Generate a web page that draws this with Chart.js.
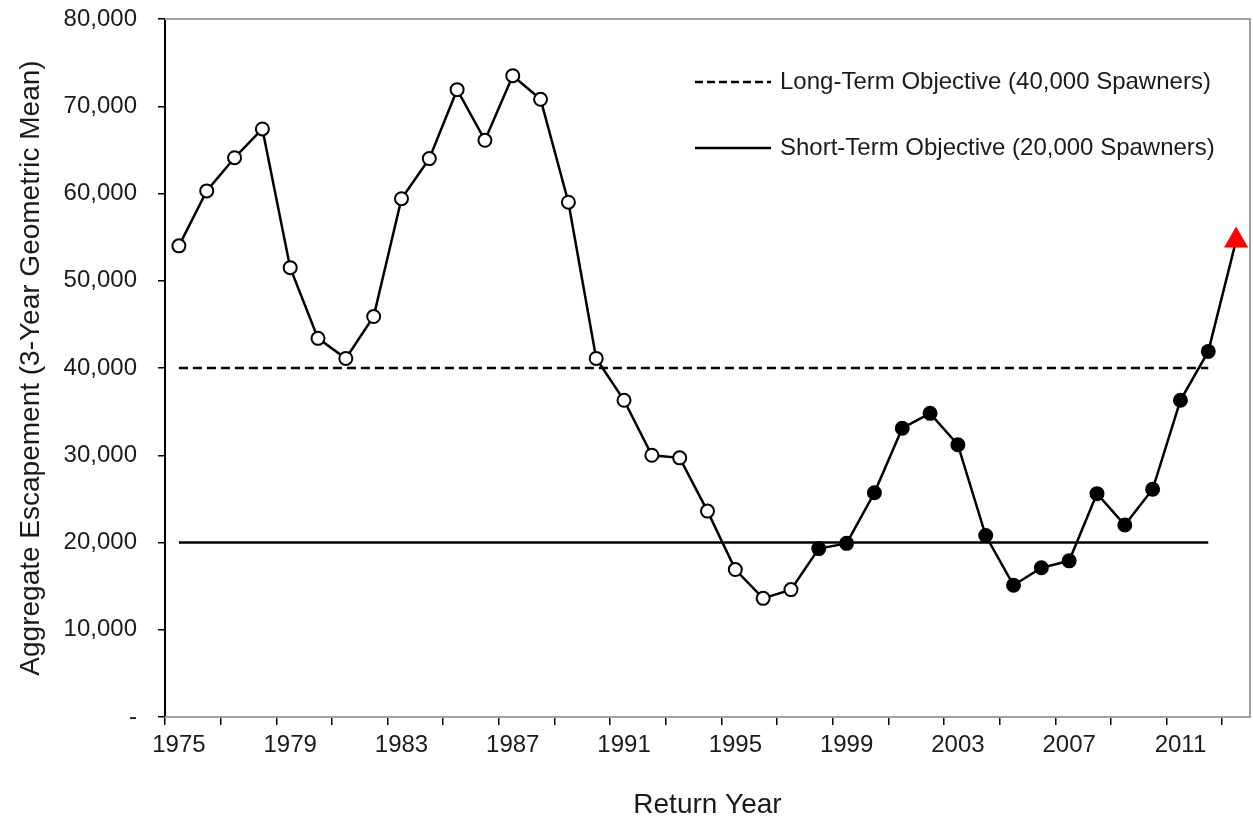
<!DOCTYPE html>
<html>
<head>
<meta charset="utf-8">
<title>Aggregate Escapement</title>
<script src="https://cdn.jsdelivr.net/npm/chart.js@4.4.1/dist/chart.umd.min.js"></script>
<style>
  html, body { margin: 0; padding: 0; background: #fff; }
  #wrap { width: 1253px; height: 824px; position: relative; }
</style>
</head>
<body>
<div id="wrap"><canvas id="chart"></canvas></div>
<script>
// Return years and 3-year geometric mean escapement
const years = [1975, 1976, 1977, 1978, 1979, 1980, 1981, 1982, 1983, 1984,
  1985, 1986, 1987, 1988, 1989, 1990, 1991, 1992, 1993, 1994,
  1995, 1996, 1997, 1998, 1999, 2000, 2001, 2002, 2003, 2004,
  2005, 2006, 2007, 2008, 2009, 2010, 2011, 2012, 2013];
const escapement = [54000, 60300, 64100, 67400, 51500, 43400, 41100, 45900, 59400, 64000,
  71900, 66100, 73500, 70800, 59000, 41100, 36300, 30000, 29700, 23600,
  16900, 13600, 14600, 19300, 19900, 25700, 33100, 34800, 31200, 20800,
  15100, 17100, 17900, 25600, 22000, 26100, 36300, 41900, 54600];

const FIRST_FILLED_YEAR = 1998;   // solid markers from here on
const PROJECTED_YEAR = 2013;      // red triangle
const OBJECTIVE_LAST_YEAR = 2012; // reference lines stop here

const longTermObjective = 40000;
const shortTermObjective = 20000;
const legendLabels = ['Long-Term Objective (40,000 Spawners)', 'Short-Term Objective (20,000 Spawners)'];

const yTicks = [0, 10000, 20000, 30000, 40000, 50000, 60000, 70000, 80000];
const yTitle = 'Aggregate Escapement (3-Year Geometric Mean)';
const xTitle = 'Return Year';

const FONT = '"Liberation Sans", Arial, sans-serif';
const TEXT = '#1a1a1a';

const objectiveLine = (value) => years.map(y => (y <= OBJECTIVE_LAST_YEAR ? value : null));

const pointFill = years.map(y => {
  if (y === PROJECTED_YEAR) return '#ff0000';
  return y >= FIRST_FILLED_YEAR ? '#000000' : '#ffffff';
});
const pointEdge = years.map(y => (y === PROJECTED_YEAR ? '#ff0000' : '#000000'));
const pointShape = years.map(y => (y === PROJECTED_YEAR ? 'triangle' : 'circle'));
const pointSize = years.map(y => (y === PROJECTED_YEAR ? 12 : 6.5));

// grey frame on top/right/bottom of the plot area
const frame = {
  id: 'frame',
  beforeDatasetsDraw(chart) {
    const { ctx, chartArea: a } = chart;
    ctx.save();
    ctx.strokeStyle = '#a0a0a0';
    ctx.lineWidth = 2;
    ctx.beginPath();
    ctx.moveTo(a.left, a.top);
    ctx.lineTo(a.right, a.top);
    ctx.lineTo(a.right, a.bottom);
    ctx.lineTo(a.left, a.bottom);
    ctx.stroke();
    ctx.restore();
  }
};

// legend inside the top right of the plot
const insetLegend = {
  id: 'insetLegend',
  afterDraw(chart) {
    const { ctx, chartArea: a } = chart;
    const x0 = a.left + 530;
    const rows = [a.top + 63, a.top + 129];
    ctx.save();
    ctx.font = '24px ' + FONT;
    ctx.fillStyle = TEXT;
    ctx.textBaseline = 'middle';
    rows.forEach((y, i) => {
      ctx.strokeStyle = '#000';
      ctx.lineWidth = 2.5;
      ctx.setLineDash(i === 0 ? [8, 4] : []);
      ctx.beginPath();
      ctx.moveTo(x0, y);
      ctx.lineTo(x0 + 76, y);
      ctx.stroke();
      ctx.setLineDash([]);
      ctx.fillText(legendLabels[i], x0 + 85, y);
    });
    ctx.restore();
  }
};

document.addEventListener('DOMContentLoaded', () => {
  const canvas = document.getElementById('chart');
  if (typeof Chart === 'undefined') {
    console.error('Chart.js not loaded!');
    return;
  }

  new Chart(canvas.getContext('2d'), {
    type: 'line',
    data: {
      labels: years.map(String),
      datasets: [
        {
          label: 'Escapement',
          data: escapement,
          borderColor: '#000',
          borderWidth: 2.5,
          tension: 0,
          pointStyle: pointShape,
          pointRadius: pointSize,
          pointBackgroundColor: pointFill,
          pointBorderColor: pointEdge,
          pointBorderWidth: 2,
          clip: false,
          order: 0
        },
        {
          label: legendLabels[0],
          data: objectiveLine(longTermObjective),
          borderColor: '#000',
          borderWidth: 2.5,
          borderDash: [9, 5],
          pointRadius: 0,
          order: 1
        },
        {
          label: legendLabels[1],
          data: objectiveLine(shortTermObjective),
          borderColor: '#000',
          borderWidth: 2.5,
          pointRadius: 0,
          order: 1
        }
      ]
    },
    options: {
      responsive: true,
      maintainAspectRatio: false,
      animation: false,
      devicePixelRatio: 1,
      layout: { autoPadding: false, padding: { top: 19, right: 3, left: 0, bottom: 0 } },
      plugins: {
        legend: { display: false },
        tooltip: { enabled: false }
      },
      events: [],
      scales: {
        x: {
          type: 'category',
          offset: true,
          afterFit: (scale) => { scale.height = 107; },
          grid: {
            offset: true,
            drawOnChartArea: false,
            tickLength: 8,
            lineWidth: 1.5,
            color: (ctx) => (ctx.index % 2 === 0 ? '#000' : 'rgba(0,0,0,0)')
          },
          border: { display: true, color: '#808080', width: 2 },
          ticks: {
            autoSkip: false,
            maxRotation: 0,
            padding: 6,
            color: TEXT,
            font: { family: FONT, size: 24 },
            callback: function (value, index) {
              return index % 4 === 0 ? this.getLabelForValue(value) : '';
            }
          },
          title: {
            display: true,
            text: xTitle,
            color: TEXT,
            font: { family: FONT, size: 28 },
            padding: { top: 2, bottom: 2 }
          }
        },
        y: {
          min: 0,
          max: 80000,
          afterFit: (scale) => {
            scale.width = 165;
            scale.paddingTop = 0;
            scale.paddingBottom = 0;
          },
          afterBuildTicks: (scale) => { scale.ticks = yTicks.map(v => ({ value: v })); },
          grid: {
            drawOnChartArea: false,
            tickLength: 7,
            lineWidth: 1.5,
            color: '#000'
          },
          border: { display: true, color: '#000', width: 2 },
          ticks: {
            padding: 21,
            color: TEXT,
            font: { family: FONT, size: 24 },
            callback: (value) => (value === 0 ? '-' : value.toLocaleString('en-US'))
          },
          title: {
            display: true,
            text: yTitle,
            color: TEXT,
            font: { family: FONT, size: 28 },
            padding: { top: 14, bottom: 0 }
          }
        }
      }
    },
    plugins: [frame, insetLegend]
  });
});
</script>
</body>
</html>
